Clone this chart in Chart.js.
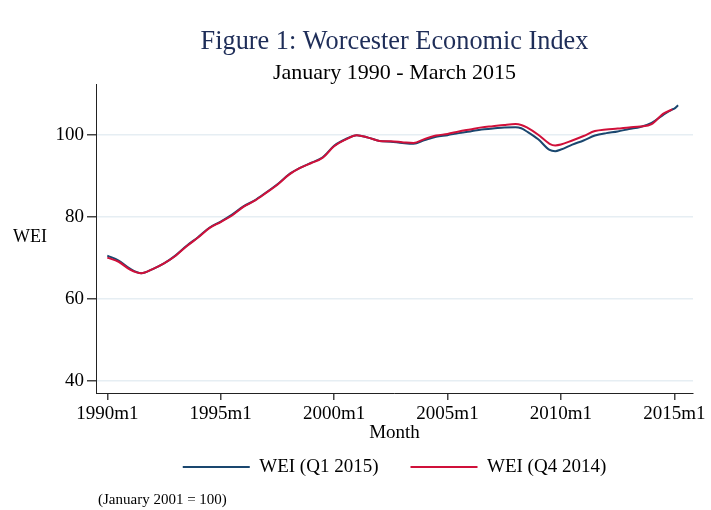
<!DOCTYPE html>
<html>
<head>
<meta charset="utf-8">
<title>Worcester Economic Index</title>
<script src="https://cdn.jsdelivr.net/npm/chart.js@4.4.1/dist/chart.umd.min.js"></script>
<style>
  body { margin: 0; background: #fff; }
  #wrap { width: 711px; height: 510px; }
</style>
</head>
<body>
<div id="wrap"><canvas id="chart" width="711" height="510"></canvas></div>
<script>
// Months (Stata style labels)
const months = [
    '1990m1', '1990m7', '1991m1', '1991m7', '1992m1', '1992m7', '1993m1', '1993m7',
    '1994m1', '1994m7', '1995m1', '1995m7', '1996m1', '1996m7', '1997m1', '1997m7',
    '1998m1', '1998m7', '1999m1', '1999m7', '2000m1', '2000m7', '2001m1', '2001m7',
    '2002m1', '2002m7', '2003m1', '2003m7', '2004m1', '2004m7', '2005m1', '2005m7',
    '2006m1', '2006m7', '2007m1', '2007m7', '2008m1', '2008m4', '2008m7', '2009m1',
    '2009m7', '2009m10', '2010m1', '2010m7', '2011m1', '2011m7', '2012m1', '2012m7',
    '2013m1', '2013m7', '2014m1', '2014m7', '2014m12', '2015m1', '2015m3'
];

// WEI, Q1 2015 vintage
const weiQ1_2015 = [
    70.6, 69.4, 67.4, 66.3, 67.3, 68.7, 70.6, 73.0,
    75.1, 77.4, 78.9, 80.6, 82.6, 84.1, 86.0, 88.0,
    90.4, 92.0, 93.3, 94.6, 97.4, 99.0, 100.0, 99.4,
    98.6, 98.4, 98.1, 97.9, 98.8, 99.6, 100.0, 100.5,
    100.9, 101.4, 101.6, 101.9, 101.95, 101.7, 100.9, 99.0,
    96.4, 96.1, 96.5, 97.7, 98.7, 99.9, 100.5, 100.9,
    101.5, 102.0, 103.0, 104.9, 106.3, 106.5, 107.3
];

// WEI, Q4 2014 vintage (ends December 2014)
const weiQ4_2014 = [
    70.1, 69.1, 67.2, 66.3, 67.3, 68.7, 70.5, 72.9,
    75.0, 77.3, 78.8, 80.4, 82.5, 84.0, 85.9, 87.9,
    90.3, 92.0, 93.2, 94.5, 97.3, 98.9, 100.0, 99.4,
    98.6, 98.5, 98.3, 98.1, 99.1, 99.9, 100.3, 100.9,
    101.4, 101.9, 102.2, 102.5, 102.7, 102.5, 101.9, 100.1,
    97.9, 97.5, 97.7, 98.7, 99.8, 101.0, 101.4, 101.6,
    101.9, 102.1, 102.7, 105.2, 106.3, null, null
];

const xTickLabels = ['1990m1', '1995m1', '2000m1', '2005m1', '2010m1', '2015m1'];
const yTicks = [40, 60, 80, 100];

const titleText = 'Figure 1: Worcester Economic Index';
const subtitleText = 'January 1990 - March 2015';
const yAxisLabel = 'WEI';
const xAxisLabel = 'Month';
const noteText = '(January 2001 = 100)';

// "1995m7" -> 1995.5
function toYear(label) {
    const parts = label.split('m');
    return Number(parts[0]) + (Number(parts[1]) - 1) / 12;
}

function toPoints(values) {
    return months.map((m, i) => ({ x: toYear(m), y: values[i] }));
}

const serif = '"Liberation Serif", "DejaVu Serif", serif';
Chart.defaults.font.family = serif;
Chart.defaults.color = '#000';

// Draws the horizontal y label and the footnote
const extraText = {
    id: 'extraText',
    afterDraw(chart) {
        const ctx = chart.ctx;
        ctx.save();
        ctx.fillStyle = '#000';
        ctx.textBaseline = 'middle';
        ctx.textAlign = 'left';
        ctx.font = '18px ' + serif;
        ctx.fillText(yAxisLabel, 13, 237);
        ctx.font = '15px ' + serif;
        ctx.fillText(noteText, 98, 500);
        ctx.restore();
    }
};

const ctx = document.getElementById('chart').getContext('2d');

new Chart(ctx, {
    type: 'line',
    data: {
        datasets: [{
            label: 'WEI (Q1 2015)',
            data: toPoints(weiQ1_2015),
            borderColor: '#1a476f',
            backgroundColor: '#1a476f',
            borderWidth: 2,
            pointRadius: 0,
            cubicInterpolationMode: 'monotone',
            fill: false,
            order: 1
        },
        {
            label: 'WEI (Q4 2014)',
            data: toPoints(weiQ4_2014),
            borderColor: '#d0103a',
            backgroundColor: '#d0103a',
            borderWidth: 2,
            pointRadius: 0,
            cubicInterpolationMode: 'monotone',
            fill: false,
            order: 0
        }]
    },
    options: {
        responsive: false,
        animation: false,
        layout: {
            padding: { left: 0, right: 18, top: 0, bottom: 23.5 }
        },
        plugins: {
            title: {
                display: true,
                fullSize: false,
                text: titleText,
                color: '#1e2d58',
                font: { size: 26.3, weight: 'normal', lineHeight: 1.2 },
                padding: { top: 26, bottom: 0 }
            },
            subtitle: {
                display: true,
                fullSize: false,
                text: subtitleText,
                color: '#000',
                font: { size: 22, lineHeight: 1.2 },
                padding: { top: 2, bottom: -1.96 }
            },
            legend: {
                position: 'bottom',
                fullSize: false,
                labels: {
                    font: { size: 19, lineHeight: 1 },
                    color: '#000',
                    boxWidth: 67,
                    boxHeight: 2,
                    padding: 32,
                    sort: (a, b) => a.datasetIndex - b.datasetIndex,
                    generateLabels: chart => Chart.defaults.plugins.legend.labels
                        .generateLabels(chart)
                        .map(item => Object.assign(item, { lineWidth: 0 }))
                }
            },
            tooltip: { enabled: false }
        },
        scales: {
            x: {
                type: 'linear',
                min: 1989.502,
                max: 2015.824,
                afterBuildTicks: scale => {
                    scale.ticks = xTickLabels.map(l => ({ value: toYear(l) }));
                },
                afterFit: scale => {
                    scale.paddingLeft = 0;
                    scale.paddingRight = 0;
                },
                ticks: {
                    autoSkip: false,
                    maxRotation: 0,
                    padding: 4.5,
                    font: { size: 19, lineHeight: 1 },
                    callback: (value, index) => xTickLabels[index]
                },
                grid: {
                    drawOnChartArea: false,
                    tickLength: 7,
                    tickColor: '#444',
                    lineWidth: 1.5
                },
                border: { display: true, color: '#222', width: 1 },
                title: {
                    display: true,
                    text: xAxisLabel,
                    font: { size: 19, lineHeight: 1 },
                    padding: { top: -4.5, bottom: -17 }
                }
            },
            y: {
                min: 37.06,
                max: 112.49,
                afterBuildTicks: scale => {
                    scale.ticks = yTicks.map(v => ({ value: v }));
                },
                afterFit: scale => {
                    scale.width = 96;
                    scale.paddingTop = 0;
                    scale.paddingBottom = 0;
                },
                ticks: {
                    padding: 3,
                    font: { size: 19, lineHeight: 1 }
                },
                grid: {
                    color: '#e6eef3',
                    lineWidth: 1.5,
                    tickLength: 9,
                    tickColor: '#444'
                },
                border: { display: true, color: '#222', width: 1 }
            }
        }
    },
    plugins: [extraText]
});
</script>
</body>
</html>
